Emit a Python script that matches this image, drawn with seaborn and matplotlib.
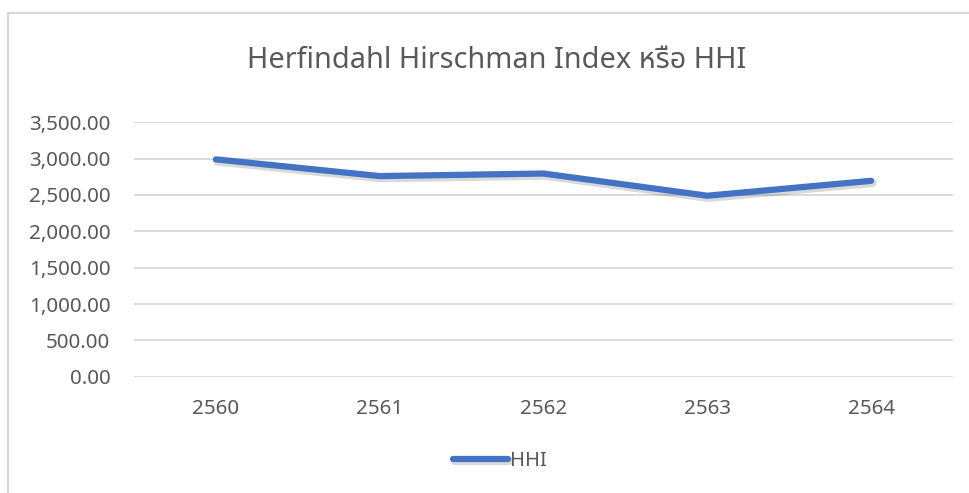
import matplotlib
matplotlib.use("Agg")
import matplotlib.pyplot as plt
import matplotlib.patheffects as pe
from matplotlib.patches import Rectangle
from matplotlib.ticker import FuncFormatter
import pandas as pd
import seaborn as sns

# Datos
years = ["2560", "2561", "2562", "2563", "2564"]
hhi = [2990, 2760, 2795, 2490, 2695]
title_text = "Herfindahl Hirschman Index หรือ HHI"
series_name = "HHI"

df = pd.DataFrame({"year": years, "value": hhi})

sns.set_style("white")
plt.rcParams["font.family"] = ["Noto Sans", "Noto Sans Thai", "Tahoma", "DejaVu Sans"]

fig = plt.figure(figsize=(9.69, 4.93), dpi=100)
ax = fig.add_axes([134 / 969, 1 - 376.7 / 493, (953 - 134) / 969, (376.7 - 122.3) / 493])

# marco gris del area del grafico
fig.patches.append(Rectangle((8 / 969, -0.1), 1.2, 1 - 13 / 493 + 0.1,
                             transform=fig.transFigure, fill=False,
                             edgecolor="#d9d9d9", linewidth=1.5))

sns.lineplot(data=df, x="year", y="value", ax=ax, color="#4472C4",
             linewidth=4.5, sort=False, label=series_name,
             path_effects=[pe.SimpleLineShadow(offset=(1, -1.5), alpha=0.15,
                                               linewidth=6),
                           pe.Normal()])
ax.lines[0].set_solid_capstyle("round")
ax.lines[0].set_solid_joinstyle("miter")

ax.set_xlim(-0.5, len(years) - 0.5)
ax.set_ylim(0, 3500)
ax.set_yticks(range(0, 3501, 500))
ax.yaxis.set_major_formatter(FuncFormatter(lambda v, p: f"{v:,.2f}"))
ax.grid(axis="y", color="#d9d9d9", linewidth=1.3)
ax.grid(axis="x", visible=False)
for s in ax.spines.values():
    s.set_visible(False)
ax.tick_params(axis="both", length=0, labelsize=14.8, colors="#595959")
ax.tick_params(axis="y", pad=17)
ax.tick_params(axis="x", pad=16)
ax.set_xlabel("")
ax.set_ylabel("")

fig.text(497 / 969, 1 - 61 / 493, title_text, ha="center", va="center",
         fontsize=20.8, color="#595959")

leg = ax.legend(loc="center", bbox_to_anchor=(500 / 969, 1 - 461 / 493),
                bbox_transform=fig.transFigure, frameon=False, fontsize=14.5,
                handlelength=2.7, handletextpad=0.1)
for t in leg.get_texts():
    t.set_color("#595959")

fig.savefig("out.png", dpi=100)
